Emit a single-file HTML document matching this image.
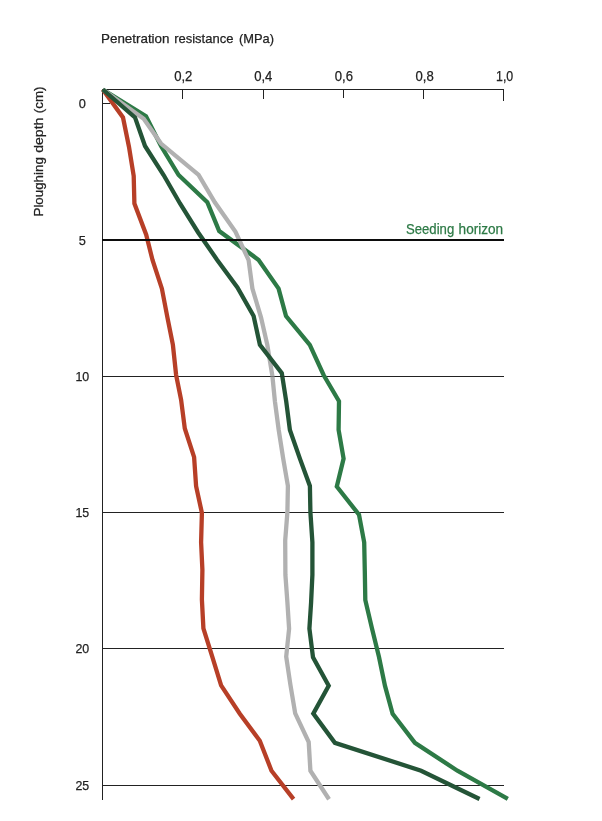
<!DOCTYPE html>
<html><head><meta charset="utf-8"><title>Penetration resistance</title>
<style>html,body{margin:0;padding:0;background:#fff}body{width:602px;height:821px;position:relative;overflow:hidden;font-family:"Liberation Sans",sans-serif}</style></head>
<body>
<svg width="602" height="821" viewBox="0 0 602 821" style="position:absolute;left:0;top:0;will-change:transform">
<rect width="602" height="821" fill="#fff"/>
<line x1="102" y1="376.5" x2="504" y2="376.5" stroke="#222" stroke-width="1"/>
<line x1="102" y1="512.5" x2="504" y2="512.5" stroke="#222" stroke-width="1"/>
<line x1="102" y1="648.5" x2="504" y2="648.5" stroke="#222" stroke-width="1"/>
<line x1="102" y1="785.5" x2="504" y2="785.5" stroke="#222" stroke-width="1"/>
<line x1="102.5" y1="89" x2="102.5" y2="800" stroke="#222" stroke-width="1"/>
<line x1="102" y1="89.5" x2="504" y2="89.5" stroke="#222" stroke-width="1"/>
<line x1="182.5" y1="89" x2="182.5" y2="99" stroke="#222" stroke-width="1"/>
<line x1="263.5" y1="89" x2="263.5" y2="99" stroke="#222" stroke-width="1"/>
<line x1="343.5" y1="89" x2="343.5" y2="98" stroke="#222" stroke-width="1"/>
<line x1="423.5" y1="89" x2="423.5" y2="99" stroke="#222" stroke-width="1"/>
<line x1="503.5" y1="89" x2="503.5" y2="101" stroke="#222" stroke-width="1"/>
<line x1="102" y1="103.5" x2="110" y2="103.5" stroke="#222" stroke-width="1"/>
<polyline points="102.8,89.5 123,117.5 129,147 133.7,176 134.4,203.5 146.2,234.7 152.5,260 161.9,288.7 167.4,317.4 172.9,344.9 176.1,374.8 181.1,399.8 184.8,428.5 194.1,457.2 196.1,486.2 201.9,512.9 201.1,542.3 202.4,569.8 201.9,599.7 203.4,628.4 212.4,657.2 221.1,685.4 239.8,713.8 259.8,740.8 271.5,770.7 293.57,799.17" fill="none" stroke="#b73f27" stroke-width="4.3" stroke-linejoin="miter" stroke-miterlimit="6" stroke-linecap="butt"/>
<polyline points="102.8,89.5 146,116.2 161,146 178.6,175 207.3,202.3 219.2,231.1 258.6,259.9 278.6,288.6 286,316 309.8,344.8 323.6,375 339,401.2 338.6,429.9 343.6,458.6 336.8,486.5 359,514.7 364.2,542.4 364.8,571 365.3,599.9 372,628.5 379,657 385,685.9 392.6,713.8 414.9,742.8 457.4,770.7 507.82,798.99" fill="none" stroke="#2d7a46" stroke-width="4.3" stroke-linejoin="miter" stroke-miterlimit="6" stroke-linecap="butt"/>
<polyline points="102.8,89.5 143.7,118.7 161,143.6 198.6,174.8 214.8,202.3 235.5,231.8 248.6,260 252.4,288.6 261,317.3 267.3,344.8 272.4,376 274.9,401.2 278.7,429.9 283.2,458.6 287.9,486 287.4,512.2 285.2,540.5 285.4,574.9 287.4,602.4 289.1,628.6 286.2,656.6 290.4,684.7 295.2,713.3 308.7,742 310.4,770.7 329.03,799.2" fill="none" stroke="#b1b1b1" stroke-width="4.3" stroke-linejoin="miter" stroke-miterlimit="6" stroke-linecap="butt"/>
<polyline points="102.8,89.5 135,117.4 145,146 163.6,175 180,203.5 198,232.2 217,259.7 237.4,287.4 253.6,316 259.9,344.8 281.8,373.2 286.2,401.2 289.9,429.9 299.9,458.6 309.9,486 310.4,512.2 312.4,542.4 312.4,574.9 311.1,602.4 309.4,628.6 313,657.2 328.7,685.7 313.3,713.6 334.9,742.8 421.1,770.7 479.54,798.96" fill="none" stroke="#245437" stroke-width="4.3" stroke-linejoin="miter" stroke-miterlimit="6" stroke-linecap="butt"/>
<line x1="266" y1="376.5" x2="290" y2="376.5" stroke="#222" stroke-width="1" stroke-opacity="0.45"/>
<line x1="102" y1="240" x2="504" y2="240" stroke="#0c0c0c" stroke-width="2"/>
<text x="101.0" y="42.9" textLength="68.5" lengthAdjust="spacingAndGlyphs" text-anchor="start" fill="#222" stroke="#222" stroke-width="0.25" style="font-family:'Liberation Sans',sans-serif;font-size:13.5px" >Penetration</text>
<text x="174.2" y="42.9" textLength="59.2" lengthAdjust="spacingAndGlyphs" text-anchor="start" fill="#222" stroke="#222" stroke-width="0.25" style="font-family:'Liberation Sans',sans-serif;font-size:13.5px" >resistance</text>
<text x="239.0" y="42.9" textLength="35" lengthAdjust="spacingAndGlyphs" text-anchor="start" fill="#222" stroke="#222" stroke-width="0.25" style="font-family:'Liberation Sans',sans-serif;font-size:13.5px" >(MPa)</text>
<text x="174.2" y="80.9" textLength="18.2" lengthAdjust="spacingAndGlyphs" text-anchor="start" fill="#222" stroke="#222" stroke-width="0.25" style="font-family:'Liberation Sans',sans-serif;font-size:13.9px" >0,2</text>
<text x="254.20000000000002" y="80.9" textLength="18.2" lengthAdjust="spacingAndGlyphs" text-anchor="start" fill="#222" stroke="#222" stroke-width="0.25" style="font-family:'Liberation Sans',sans-serif;font-size:13.9px" >0,4</text>
<text x="334.79999999999995" y="80.9" textLength="18.2" lengthAdjust="spacingAndGlyphs" text-anchor="start" fill="#222" stroke="#222" stroke-width="0.25" style="font-family:'Liberation Sans',sans-serif;font-size:13.9px" >0,6</text>
<text x="415.59999999999997" y="80.9" textLength="18.2" lengthAdjust="spacingAndGlyphs" text-anchor="start" fill="#222" stroke="#222" stroke-width="0.25" style="font-family:'Liberation Sans',sans-serif;font-size:13.9px" >0,8</text>
<text x="495.99999999999994" y="80.9" textLength="17.2" lengthAdjust="spacingAndGlyphs" text-anchor="start" fill="#222" stroke="#222" stroke-width="0.25" style="font-family:'Liberation Sans',sans-serif;font-size:13.9px" >1,0</text>
<text x="78.75" y="108.3" textLength="7.1" lengthAdjust="spacingAndGlyphs" text-anchor="start" fill="#222" stroke="#222" stroke-width="0.25" style="font-family:'Liberation Sans',sans-serif;font-size:13.5px" >0</text>
<text x="78.75" y="244.8" textLength="7.1" lengthAdjust="spacingAndGlyphs" text-anchor="start" fill="#222" stroke="#222" stroke-width="0.25" style="font-family:'Liberation Sans',sans-serif;font-size:13.5px" >5</text>
<text x="75.39999999999999" y="381.3" textLength="13.8" lengthAdjust="spacingAndGlyphs" text-anchor="start" fill="#222" stroke="#222" stroke-width="0.25" style="font-family:'Liberation Sans',sans-serif;font-size:13.5px" >10</text>
<text x="75.39999999999999" y="517.3" textLength="13.8" lengthAdjust="spacingAndGlyphs" text-anchor="start" fill="#222" stroke="#222" stroke-width="0.25" style="font-family:'Liberation Sans',sans-serif;font-size:13.5px" >15</text>
<text x="75.39999999999999" y="653.3" textLength="13.8" lengthAdjust="spacingAndGlyphs" text-anchor="start" fill="#222" stroke="#222" stroke-width="0.25" style="font-family:'Liberation Sans',sans-serif;font-size:13.5px" >20</text>
<text x="75.39999999999999" y="790.3" textLength="13.8" lengthAdjust="spacingAndGlyphs" text-anchor="start" fill="#222" stroke="#222" stroke-width="0.25" style="font-family:'Liberation Sans',sans-serif;font-size:13.5px" >25</text>
<text x="406.0" y="233.5" textLength="48.2" lengthAdjust="spacingAndGlyphs" text-anchor="start" fill="#2d7a46" stroke="#2d7a46" stroke-width="0.25" style="font-family:'Liberation Sans',sans-serif;font-size:13.8px" >Seeding</text>
<text x="458.6" y="233.5" textLength="44.6" lengthAdjust="spacingAndGlyphs" text-anchor="start" fill="#2d7a46" stroke="#2d7a46" stroke-width="0.25" style="font-family:'Liberation Sans',sans-serif;font-size:13.8px" >horizon</text>
<text transform="translate(42.5,216) rotate(-90)" x="-0.5" y="0" textLength="59.3" lengthAdjust="spacingAndGlyphs" fill="#222" stroke="#222" stroke-width="0.25" style="font-family:'Liberation Sans',sans-serif;font-size:13.5px">Ploughing</text>
<text transform="translate(42.5,216) rotate(-90)" x="63.2" y="0" textLength="35.2" lengthAdjust="spacingAndGlyphs" fill="#222" stroke="#222" stroke-width="0.25" style="font-family:'Liberation Sans',sans-serif;font-size:13.5px">depth</text>
<text transform="translate(42.5,216) rotate(-90)" x="102.8" y="0" textLength="26.6" lengthAdjust="spacingAndGlyphs" fill="#222" stroke="#222" stroke-width="0.25" style="font-family:'Liberation Sans',sans-serif;font-size:13.5px">(cm)</text>
</svg>
</body></html>
